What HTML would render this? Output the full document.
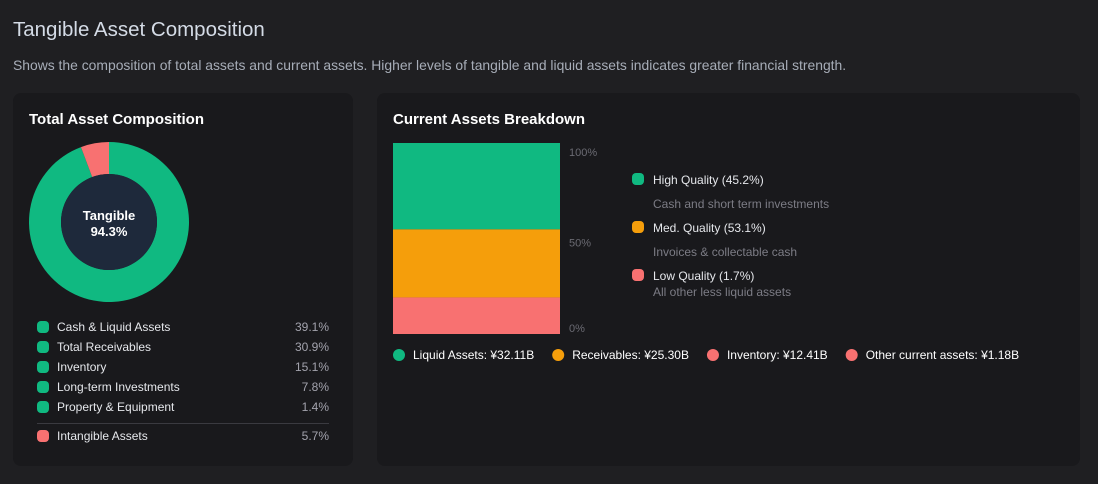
<!DOCTYPE html>
<html><head><meta charset="utf-8"><style>
body{margin:0;width:1098px;height:484px;background:#1f1f22;font-family:"Liberation Sans","Noto Sans CJK JP",sans-serif;position:relative;overflow:hidden;color:#e5e7eb}
.abs{position:absolute}
.panel{position:absolute;background:#19191c;border-radius:8px}
.leg{position:absolute;left:37px;font-size:12px;color:#e5e7eb;width:292px;height:16px}
.leg .d{position:absolute;left:0;top:1px;width:12px;height:12px;border-radius:4px}
.leg .t{position:absolute;left:20px;top:0}
.leg .v{position:absolute;right:0;top:0;color:#a3a3ad}
</style></head><body>
<div class="abs" style="left:13px;top:18px;font-size:20.5px;color:#d4dbe6">Tangible Asset Composition</div>
<div class="abs" style="left:13px;top:57px;font-size:13.9px;color:#a7adb8">Shows the composition of total assets and current assets. Higher levels of tangible and liquid assets indicates greater financial strength.</div>

<div class="panel" style="left:13px;top:93px;width:340px;height:373px"></div>
<div class="abs" style="left:29px;top:111px;font-size:15px;font-weight:bold;color:#fff">Total Asset Composition</div>
<svg class="abs" style="left:0;top:0" width="360" height="320" id="donut"></svg>
<div id="legend"></div>

<div class="panel" style="left:377px;top:93px;width:703px;height:373px"></div>
<div class="abs" style="left:393px;top:111px;font-size:15px;font-weight:bold;color:#fff">Current Assets Breakdown</div>
<svg class="abs" style="left:0;top:0" width="1098" height="380" id="bar"></svg>

<script>
const donutLabels=["Tangible","Intangible"];
const donutValues=[94.3,5.7];
const legendNames=["Cash & Liquid Assets","Total Receivables","Inventory","Long-term Investments","Property & Equipment","Intangible Assets"];
const legendValues=[39.1,30.9,15.1,7.8,1.4,5.7];
const barCategories=["Liquid Assets","Receivables","Inventory","Other current assets"];
const barValues=[32.11,25.30,12.41,1.18];
const qualityLabels=["High Quality (45.2%)","Med. Quality (53.1%)","Low Quality (1.7%)"];
const qualityDesc=["Cash and short term investments","Invoices & collectable cash","All other less liquid assets"];
const yTicks=[100,50,0];

const NS="http://www.w3.org/2000/svg";
function mk(tag,attrs,parent){const e=document.createElementNS(NS,tag);for(const k in attrs)e.setAttribute(k,attrs[k]);parent.appendChild(e);return e;}
const dsvg=document.getElementById('donut');
const cx=109,cy=222,R=80,r=48;
const dcolors=["#10b981","#f87171"];
const total=donutValues.reduce((a,b)=>a+b,0);
let ang=0;
donutValues.forEach((v,i)=>{
  const a0=ang,a1=ang+v/total*2*Math.PI;ang=a1;
  const p=(a,rad)=>[cx+rad*Math.sin(a),cy-rad*Math.cos(a)];
  const [x0,y0]=p(a0,R),[x1,y1]=p(a1,R),[x2,y2]=p(a1,r),[x3,y3]=p(a0,r);
  const lg=(a1-a0)>Math.PI?1:0;
  const el=mk('path',{d:`M${x0},${y0}A${R},${R} 0 ${lg} 1 ${x1},${y1}L${x2},${y2}A${r},${r} 0 ${lg} 0 ${x3},${y3}Z`,fill:dcolors[i]},dsvg);
  
  
});
const hole=mk('circle',{cx:cx,cy:cy,r:r,fill:'#1e293b'},dsvg);


const t1=mk('text',{x:cx,y:cy-2,'text-anchor':'middle','font-size':13,'font-weight':'bold',fill:'#fff'},dsvg);t1.textContent=donutLabels[0];


const t2=mk('text',{x:cx,y:cy+14,'text-anchor':'middle','font-size':13,'font-weight':'bold',fill:'#fff'},dsvg);t2.textContent=donutValues[0]+'%';


const lg=document.getElementById('legend');
legendNames.forEach((n,i)=>{
  const last=i===legendNames.length-1;
  const d=document.createElement('div');d.className='leg';
  
  
  d.style.top=(last?429:320+i*20)+'px';
  d.innerHTML=`<span class="d" style="background:${last?'#f87171':'#10b981'}"></span><span class="t">${n.replace('&','&amp;')}</span><span class="v">${legendValues[i]}%</span>`;
  lg.appendChild(d);
});
const sep=document.createElement('div');sep.className='abs';


sep.style.cssText='left:37px;top:423px;width:292px;height:1px;background:#3a3a40';
lg.appendChild(sep);
const bsvg=document.getElementById('bar');
const bx=393,bw=167,by0=334,bh=191;
const y=p=>by0-p/100*bh;
const btotal=barValues.reduce((a,b)=>a+b,0);
const stacks=[barValues[0],barValues[1],barValues[2]+barValues[3]];
const scolors=["#10b981","#f59e0b","#f87171"];
let acc=100;
stacks.forEach((v,i)=>{
  const pct=v/btotal*100;
  const el=mk('rect',{x:bx,y:y(acc),width:bw,height:y(acc-pct)-y(acc),fill:scolors[i]},bsvg);
  
  
  acc-=pct;
});
yTicks.forEach(t=>{
  const el=mk('text',{x:569,y:y(t)+(t===100?13:t===0?-2:8),'font-size':11,fill:'#6b6b73'},bsvg);el.textContent=t+'%';
  
  
});
const qy=[180,228,276];
qualityLabels.forEach((q,i)=>{
  const c=mk('rect',{x:632,y:qy[i]-7,width:12,height:12,rx:4,fill:scolors[i]},bsvg);
  
  
  const t=mk('text',{x:653,y:qy[i]+4,'font-size':12,fill:'#e5e7eb'},bsvg);t.textContent=q;
  
  
  const dd=mk('text',{x:653,y:qy[i]+(i===2?20:28),'font-size':12,fill:'#7c7c85'},bsvg);dd.textContent=qualityDesc[i];
  
  
});
const bcolors=["#10b981","#f59e0b","#f87171","#f87171"];
let lx=393;
barCategories.forEach((c,i)=>{
  const ci=mk('circle',{cx:lx+6,cy:355,r:6,fill:bcolors[i]},bsvg);
  
  
  const t=mk('text',{x:lx+20,y:359,'font-size':12,fill:'#fff'},bsvg);t.textContent=c+': ¥'+barValues[i].toFixed(2)+'B';
  
  
  lx+=20+t.getComputedTextLength()+18;
});
</script>
</body></html>
